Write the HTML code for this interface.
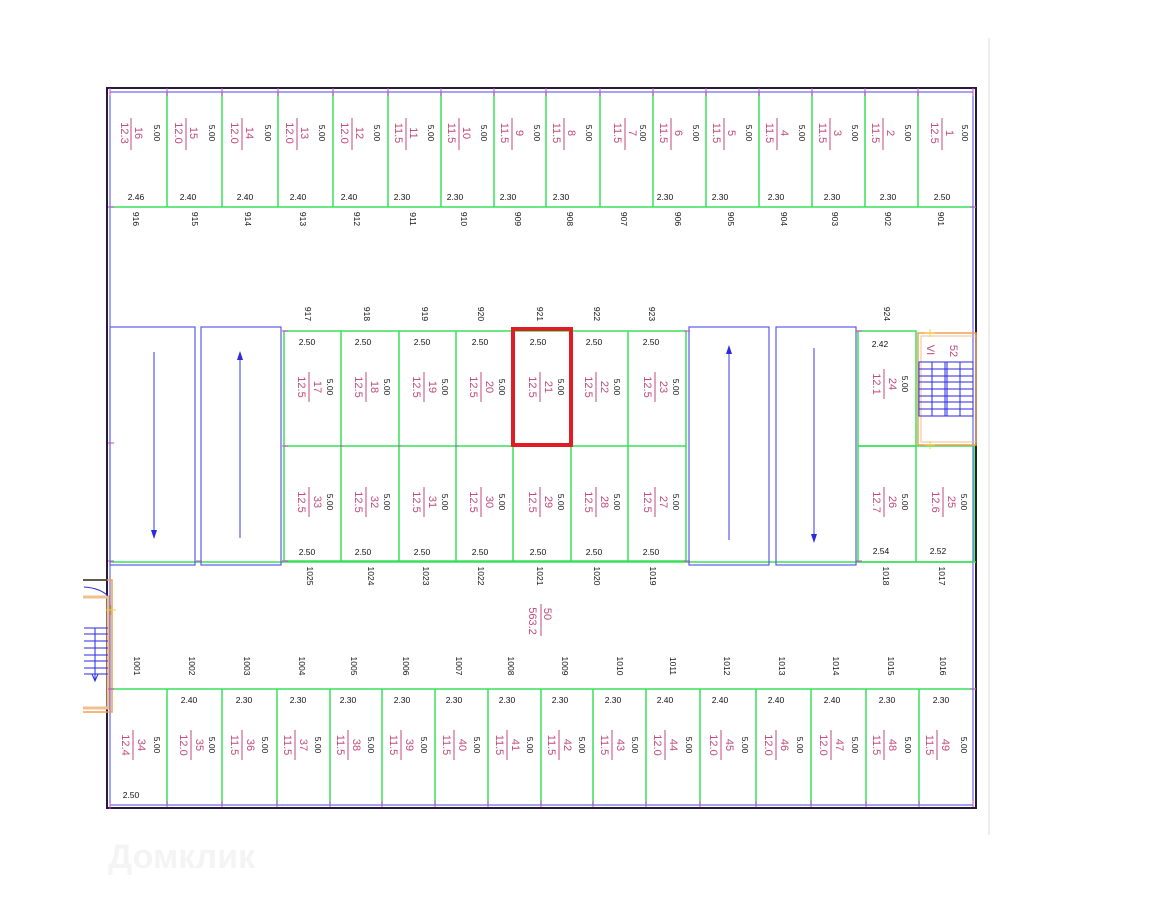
<!DOCTYPE html>
<html><head><meta charset="utf-8"><style>
html,body{margin:0;padding:0;background:#fff;}
svg{display:block;}
.k{font-family:"Liberation Sans",sans-serif;font-size:8.5px;fill:#111;}
.m{font-family:"Liberation Sans",sans-serif;font-size:11px;fill:#c24a78;}
</style></head><body>
<svg width="1152" height="915" viewBox="0 0 1152 915" xmlns="http://www.w3.org/2000/svg">
<rect width="1152" height="915" fill="#fff"/>
<line x1="989" y1="38" x2="989" y2="835" stroke="#ddd" stroke-width="1"/>
<!-- outer -->
<rect x="107" y="88" width="869" height="720" fill="none" stroke="#2a1a3a" stroke-width="2"/>
<rect x="110" y="92" width="863" height="713" fill="none" stroke="#4848e0" stroke-width="1"/>
<!-- top row -->
<g stroke="#38e058" stroke-width="1.5">
<line x1="110" y1="207" x2="976" y2="207"/>
<line x1="167" y1="92" x2="167" y2="207"/><line x1="222" y1="92" x2="222" y2="207"/><line x1="278" y1="92" x2="278" y2="207"/><line x1="333" y1="92" x2="333" y2="207"/><line x1="388" y1="92" x2="388" y2="207"/><line x1="441" y1="92" x2="441" y2="207"/><line x1="494" y1="92" x2="494" y2="207"/><line x1="546" y1="92" x2="546" y2="207"/><line x1="600" y1="92" x2="600" y2="207"/><line x1="653" y1="92" x2="653" y2="207"/><line x1="706" y1="92" x2="706" y2="207"/><line x1="759" y1="92" x2="759" y2="207"/><line x1="812" y1="92" x2="812" y2="207"/><line x1="865" y1="92" x2="865" y2="207"/><line x1="918" y1="92" x2="918" y2="207"/>
<!-- bottom row -->
<line x1="110" y1="689" x2="976" y2="689"/>
<line x1="167" y1="689" x2="167" y2="805"/><line x1="222" y1="689" x2="222" y2="805"/><line x1="277" y1="689" x2="277" y2="805"/><line x1="330" y1="689" x2="330" y2="805"/><line x1="382" y1="689" x2="382" y2="805"/><line x1="435" y1="689" x2="435" y2="805"/><line x1="488" y1="689" x2="488" y2="805"/><line x1="541" y1="689" x2="541" y2="805"/><line x1="593" y1="689" x2="593" y2="805"/><line x1="646" y1="689" x2="646" y2="805"/><line x1="700" y1="689" x2="700" y2="805"/><line x1="756" y1="689" x2="756" y2="805"/><line x1="811" y1="689" x2="811" y2="805"/><line x1="866" y1="689" x2="866" y2="805"/><line x1="919" y1="689" x2="919" y2="805"/>
<!-- middle block -->
<rect x="284" y="331" width="402" height="230" fill="none"/>
<line x1="284" y1="446" x2="686" y2="446"/>
<line x1="341" y1="331" x2="341" y2="561"/><line x1="399" y1="331" x2="399" y2="561"/><line x1="456" y1="331" x2="456" y2="561"/><line x1="513" y1="331" x2="513" y2="561"/><line x1="571" y1="331" x2="571" y2="561"/><line x1="628" y1="331" x2="628" y2="561"/>
<line x1="110" y1="562" x2="976" y2="562"/>
<!-- right cells -->
<rect x="858" y="331" width="58" height="115" fill="none"/>
<rect x="858" y="446" width="116" height="116" fill="none"/>
<line x1="916" y1="446" x2="916" y2="562"/>
</g>
<!-- ramps -->
<g stroke="#5a5ae6" stroke-width="1.2" fill="none">
<rect x="110" y="327" width="85" height="238"/>
<rect x="201" y="327" width="80" height="238"/>
<rect x="689" y="327" width="80" height="238"/>
<rect x="776" y="327" width="80" height="238"/>
<line x1="154" y1="352" x2="154" y2="534"/>
<line x1="240" y1="356" x2="240" y2="538"/>
<line x1="729" y1="350" x2="729" y2="540"/>
<line x1="814" y1="348" x2="814" y2="538"/>
</g>
<g fill="#2a2ae0">
<polygon points="151,530 157,530 154,539"/>
<polygon points="237,360 243,360 240,351"/>
<polygon points="726,354 732,354 729,345"/>
<polygon points="811,534 817,534 814,543"/>
</g>
<!-- selected -->
<rect x="513" y="329" width="58" height="116" fill="none" stroke="#e01c24" stroke-width="4"/>
<!-- right stair -->
<rect x="918" y="333" width="58" height="112" fill="none" stroke="#f0a050" stroke-width="1.5"/>
<rect x="921" y="336" width="55" height="106" fill="none" stroke="#f0c090" stroke-width="1"/>
<g stroke="#2a2ae0" stroke-width="1">
<rect x="919" y="362" width="54" height="54" fill="none"/>
<line x1="919" y1="369" x2="973" y2="369"/><line x1="919" y1="376" x2="973" y2="376"/><line x1="919" y1="382" x2="973" y2="382"/><line x1="919" y1="389" x2="973" y2="389"/><line x1="919" y1="396" x2="973" y2="396"/><line x1="919" y1="402" x2="973" y2="402"/><line x1="919" y1="409" x2="973" y2="409"/>
<line x1="945" y1="362" x2="945" y2="416"/><line x1="947" y1="362" x2="947" y2="416"/><line x1="932" y1="362" x2="932" y2="416"/><line x1="960" y1="362" x2="960" y2="416"/>
</g>
<text class="m" transform="translate(930,350) rotate(90)" text-anchor="middle" dominant-baseline="central">VI</text>
<text class="m" transform="translate(953,351) rotate(90)" text-anchor="middle" dominant-baseline="central">52</text>
<!-- left stair -->
<g>
<path d="M83,580 H112 V712 H83" fill="none" stroke="#f0a050" stroke-width="1.5"/>
<path d="M83,597 H108 V708 H83" fill="none" stroke="#f0c090" stroke-width="3"/>
<path d="M83,580 H107" stroke="#333" stroke-width="1.5"/>
<g stroke="#2a2ae0" stroke-width="1"><line x1="84" y1="628" x2="108" y2="628"/><line x1="84" y1="634" x2="108" y2="634"/><line x1="84" y1="641" x2="108" y2="641"/><line x1="84" y1="648" x2="108" y2="648"/><line x1="84" y1="655" x2="108" y2="655"/><line x1="84" y1="661" x2="108" y2="661"/><line x1="84" y1="668" x2="108" y2="668"/><line x1="84" y1="674" x2="108" y2="674"/><line x1="95" y1="628" x2="95" y2="680"/><path d="M92,674 L95,681 L98,674" fill="none"/><path d="M84,587 Q100,588 108,596" fill="none"/></g>
</g>
<!-- rotated text helper: all rotated 90 -->
<g text-anchor="middle" dominant-baseline="central">
<!-- top row: c, area, num -->
<g class="m">
<text transform="translate(124,133) rotate(90)">12.3</text><text transform="translate(138,133) rotate(90)">16</text>
<text transform="translate(178,133) rotate(90)">12.0</text><text transform="translate(193,133) rotate(90)">15</text>
<text transform="translate(234,133) rotate(90)">12.0</text><text transform="translate(249,133) rotate(90)">14</text>
<text transform="translate(289,133) rotate(90)">12.0</text><text transform="translate(304,133) rotate(90)">13</text>
<text transform="translate(344,133) rotate(90)">12.0</text><text transform="translate(359,133) rotate(90)">12</text>
<text transform="translate(398,133) rotate(90)">11.5</text><text transform="translate(413,133) rotate(90)">11</text>
<text transform="translate(451,133) rotate(90)">11.5</text><text transform="translate(466,133) rotate(90)">10</text>
<text transform="translate(504,133) rotate(90)">11.5</text><text transform="translate(519,133) rotate(90)">9</text>
<text transform="translate(556,133) rotate(90)">11.5</text><text transform="translate(571,133) rotate(90)">8</text>
<text transform="translate(617,133) rotate(90)">11.5</text><text transform="translate(632,133) rotate(90)">7</text>
<text transform="translate(663,133) rotate(90)">11.5</text><text transform="translate(678,133) rotate(90)">6</text>
<text transform="translate(716,133) rotate(90)">11.5</text><text transform="translate(731,133) rotate(90)">5</text>
<text transform="translate(769,133) rotate(90)">11.5</text><text transform="translate(784,133) rotate(90)">4</text>
<text transform="translate(822,133) rotate(90)">11.5</text><text transform="translate(837,133) rotate(90)">3</text>
<text transform="translate(875,133) rotate(90)">11.5</text><text transform="translate(890,133) rotate(90)">2</text>
<text transform="translate(934,133) rotate(90)">12.5</text><text transform="translate(949,133) rotate(90)">1</text>
</g>
<g stroke="#c24a78" stroke-width="1">
<line x1="131" y1="118" x2="131" y2="150"/><line x1="186" y1="118" x2="186" y2="150"/><line x1="242" y1="118" x2="242" y2="150"/><line x1="297" y1="118" x2="297" y2="150"/><line x1="352" y1="118" x2="352" y2="150"/><line x1="406" y1="118" x2="406" y2="150"/><line x1="459" y1="118" x2="459" y2="150"/><line x1="512" y1="118" x2="512" y2="150"/><line x1="564" y1="118" x2="564" y2="150"/><line x1="625" y1="118" x2="625" y2="150"/><line x1="671" y1="118" x2="671" y2="150"/><line x1="724" y1="118" x2="724" y2="150"/><line x1="777" y1="118" x2="777" y2="150"/><line x1="830" y1="118" x2="830" y2="150"/><line x1="883" y1="118" x2="883" y2="150"/><line x1="942" y1="118" x2="942" y2="150"/>
</g>
<g class="k">
<text transform="translate(157,133) rotate(90)">5.00</text><text transform="translate(212,133) rotate(90)">5.00</text><text transform="translate(268,133) rotate(90)">5.00</text><text transform="translate(322,133) rotate(90)">5.00</text><text transform="translate(377,133) rotate(90)">5.00</text><text transform="translate(431,133) rotate(90)">5.00</text><text transform="translate(484,133) rotate(90)">5.00</text><text transform="translate(537,133) rotate(90)">5.00</text><text transform="translate(589,133) rotate(90)">5.00</text><text transform="translate(643,133) rotate(90)">5.00</text><text transform="translate(696,133) rotate(90)">5.00</text><text transform="translate(749,133) rotate(90)">5.00</text><text transform="translate(802,133) rotate(90)">5.00</text><text transform="translate(855,133) rotate(90)">5.00</text><text transform="translate(908,133) rotate(90)">5.00</text><text transform="translate(965,133) rotate(90)">5.00</text>
<text transform="translate(136,219) rotate(90)">916</text><text transform="translate(195,219) rotate(90)">915</text><text transform="translate(248,219) rotate(90)">914</text><text transform="translate(303,219) rotate(90)">913</text><text transform="translate(357,219) rotate(90)">912</text><text transform="translate(413,219) rotate(90)">911</text><text transform="translate(464,219) rotate(90)">910</text><text transform="translate(518,219) rotate(90)">909</text><text transform="translate(570,219) rotate(90)">908</text><text transform="translate(624,219) rotate(90)">907</text><text transform="translate(678,219) rotate(90)">906</text><text transform="translate(731,219) rotate(90)">905</text><text transform="translate(784,219) rotate(90)">904</text><text transform="translate(835,219) rotate(90)">903</text><text transform="translate(888,219) rotate(90)">902</text><text transform="translate(941,219) rotate(90)">901</text>
<!-- middle labels -->
<text transform="translate(308,314) rotate(90)">917</text><text transform="translate(367,314) rotate(90)">918</text><text transform="translate(425,314) rotate(90)">919</text><text transform="translate(481,314) rotate(90)">920</text><text transform="translate(540,314) rotate(90)">921</text><text transform="translate(597,314) rotate(90)">922</text><text transform="translate(652,314) rotate(90)">923</text><text transform="translate(887,314) rotate(90)">924</text>
<text transform="translate(310,576) rotate(90)">1025</text><text transform="translate(371,576) rotate(90)">1024</text><text transform="translate(426,576) rotate(90)">1023</text><text transform="translate(481,576) rotate(90)">1022</text><text transform="translate(540,576) rotate(90)">1021</text><text transform="translate(597,576) rotate(90)">1020</text><text transform="translate(653,576) rotate(90)">1019</text><text transform="translate(886,576) rotate(90)">1018</text><text transform="translate(942,576) rotate(90)">1017</text>
<!-- middle 5.00 -->
<text transform="translate(330,387) rotate(90)">5.00</text><text transform="translate(387,387) rotate(90)">5.00</text><text transform="translate(445,387) rotate(90)">5.00</text><text transform="translate(502,387) rotate(90)">5.00</text><text transform="translate(561,387) rotate(90)">5.00</text><text transform="translate(617,387) rotate(90)">5.00</text><text transform="translate(676,387) rotate(90)">5.00</text><text transform="translate(905,384) rotate(90)">5.00</text>
<text transform="translate(330,502) rotate(90)">5.00</text><text transform="translate(387,502) rotate(90)">5.00</text><text transform="translate(445,502) rotate(90)">5.00</text><text transform="translate(502,502) rotate(90)">5.00</text><text transform="translate(561,502) rotate(90)">5.00</text><text transform="translate(617,502) rotate(90)">5.00</text><text transform="translate(676,502) rotate(90)">5.00</text><text transform="translate(905,502) rotate(90)">5.00</text><text transform="translate(964,502) rotate(90)">5.00</text>
<!-- bottom labels -->
<text transform="translate(137,666) rotate(90)">1001</text><text transform="translate(192,666) rotate(90)">1002</text><text transform="translate(247,666) rotate(90)">1003</text><text transform="translate(302,666) rotate(90)">1004</text><text transform="translate(354,666) rotate(90)">1005</text><text transform="translate(406,666) rotate(90)">1006</text><text transform="translate(459,666) rotate(90)">1007</text><text transform="translate(511,666) rotate(90)">1008</text><text transform="translate(565,666) rotate(90)">1009</text><text transform="translate(620,666) rotate(90)">1010</text><text transform="translate(673,666) rotate(90)">1011</text><text transform="translate(727,666) rotate(90)">1012</text><text transform="translate(782,666) rotate(90)">1013</text><text transform="translate(836,666) rotate(90)">1014</text><text transform="translate(891,666) rotate(90)">1015</text><text transform="translate(943,666) rotate(90)">1016</text>
<!-- bottom 5.00 -->
<text transform="translate(157,745) rotate(90)">5.00</text><text transform="translate(212,745) rotate(90)">5.00</text><text transform="translate(265,745) rotate(90)">5.00</text><text transform="translate(318,745) rotate(90)">5.00</text><text transform="translate(371,745) rotate(90)">5.00</text><text transform="translate(424,745) rotate(90)">5.00</text><text transform="translate(477,745) rotate(90)">5.00</text><text transform="translate(530,745) rotate(90)">5.00</text><text transform="translate(582,745) rotate(90)">5.00</text><text transform="translate(635,745) rotate(90)">5.00</text><text transform="translate(689,745) rotate(90)">5.00</text><text transform="translate(745,745) rotate(90)">5.00</text><text transform="translate(800,745) rotate(90)">5.00</text><text transform="translate(855,745) rotate(90)">5.00</text><text transform="translate(908,745) rotate(90)">5.00</text><text transform="translate(964,745) rotate(90)">5.00</text>
</g>
<!-- middle magenta -->
<g class="m">
<text transform="translate(301,387) rotate(90)">12.5</text><text transform="translate(317,387) rotate(90)">17</text>
<text transform="translate(358,387) rotate(90)">12.5</text><text transform="translate(374,387) rotate(90)">18</text>
<text transform="translate(416,387) rotate(90)">12.5</text><text transform="translate(432,387) rotate(90)">19</text>
<text transform="translate(473,387) rotate(90)">12.5</text><text transform="translate(489,387) rotate(90)">20</text>
<text transform="translate(532,387) rotate(90)">12.5</text><text transform="translate(548,387) rotate(90)">21</text>
<text transform="translate(588,387) rotate(90)">12.5</text><text transform="translate(604,387) rotate(90)">22</text>
<text transform="translate(647,387) rotate(90)">12.5</text><text transform="translate(663,387) rotate(90)">23</text>
<text transform="translate(876,384) rotate(90)">12.1</text><text transform="translate(892,384) rotate(90)">24</text>
<text transform="translate(301,502) rotate(90)">12.5</text><text transform="translate(317,502) rotate(90)">33</text>
<text transform="translate(358,502) rotate(90)">12.5</text><text transform="translate(374,502) rotate(90)">32</text>
<text transform="translate(416,502) rotate(90)">12.5</text><text transform="translate(432,502) rotate(90)">31</text>
<text transform="translate(473,502) rotate(90)">12.5</text><text transform="translate(489,502) rotate(90)">30</text>
<text transform="translate(532,502) rotate(90)">12.5</text><text transform="translate(548,502) rotate(90)">29</text>
<text transform="translate(588,502) rotate(90)">12.5</text><text transform="translate(604,502) rotate(90)">28</text>
<text transform="translate(647,502) rotate(90)">12.5</text><text transform="translate(663,502) rotate(90)">27</text>
<text transform="translate(876,502) rotate(90)">12.7</text><text transform="translate(892,502) rotate(90)">26</text>
<text transform="translate(935,502) rotate(90)">12.6</text><text transform="translate(951,502) rotate(90)">25</text>
<text transform="translate(532,621) rotate(90)">563.2</text><text transform="translate(547,614) rotate(90)">50</text>
<!-- bottom row -->
<text transform="translate(125,745) rotate(90)">12.4</text><text transform="translate(141,745) rotate(90)">34</text>
<text transform="translate(183,745) rotate(90)">12.0</text><text transform="translate(199,745) rotate(90)">35</text>
<text transform="translate(234,745) rotate(90)">11.5</text><text transform="translate(250,745) rotate(90)">36</text>
<text transform="translate(287,745) rotate(90)">11.5</text><text transform="translate(303,745) rotate(90)">37</text>
<text transform="translate(340,745) rotate(90)">11.5</text><text transform="translate(356,745) rotate(90)">38</text>
<text transform="translate(393,745) rotate(90)">11.5</text><text transform="translate(409,745) rotate(90)">39</text>
<text transform="translate(446,745) rotate(90)">11.5</text><text transform="translate(462,745) rotate(90)">40</text>
<text transform="translate(499,745) rotate(90)">11.5</text><text transform="translate(515,745) rotate(90)">41</text>
<text transform="translate(551,745) rotate(90)">11.5</text><text transform="translate(567,745) rotate(90)">42</text>
<text transform="translate(604,745) rotate(90)">11.5</text><text transform="translate(620,745) rotate(90)">43</text>
<text transform="translate(657,745) rotate(90)">12.0</text><text transform="translate(673,745) rotate(90)">44</text>
<text transform="translate(713,745) rotate(90)">12.0</text><text transform="translate(729,745) rotate(90)">45</text>
<text transform="translate(768,745) rotate(90)">12.0</text><text transform="translate(784,745) rotate(90)">46</text>
<text transform="translate(823,745) rotate(90)">12.0</text><text transform="translate(839,745) rotate(90)">47</text>
<text transform="translate(876,745) rotate(90)">11.5</text><text transform="translate(892,745) rotate(90)">48</text>
<text transform="translate(929,745) rotate(90)">11.5</text><text transform="translate(945,745) rotate(90)">49</text>
</g>
<g stroke="#c24a78" stroke-width="1">
<line x1="309" y1="372" x2="309" y2="402"/><line x1="366" y1="372" x2="366" y2="402"/><line x1="424" y1="372" x2="424" y2="402"/><line x1="481" y1="372" x2="481" y2="402"/><line x1="540" y1="372" x2="540" y2="402"/><line x1="596" y1="372" x2="596" y2="402"/><line x1="655" y1="372" x2="655" y2="402"/><line x1="884" y1="369" x2="884" y2="399"/>
<line x1="309" y1="487" x2="309" y2="517"/><line x1="366" y1="487" x2="366" y2="517"/><line x1="424" y1="487" x2="424" y2="517"/><line x1="481" y1="487" x2="481" y2="517"/><line x1="540" y1="487" x2="540" y2="517"/><line x1="596" y1="487" x2="596" y2="517"/><line x1="655" y1="487" x2="655" y2="517"/><line x1="884" y1="487" x2="884" y2="517"/><line x1="943" y1="487" x2="943" y2="517"/>
<line x1="541" y1="604" x2="541" y2="636"/>
<line x1="133" y1="730" x2="133" y2="760"/><line x1="191" y1="730" x2="191" y2="760"/><line x1="242" y1="730" x2="242" y2="760"/><line x1="295" y1="730" x2="295" y2="760"/><line x1="348" y1="730" x2="348" y2="760"/><line x1="401" y1="730" x2="401" y2="760"/><line x1="454" y1="730" x2="454" y2="760"/><line x1="507" y1="730" x2="507" y2="760"/><line x1="559" y1="730" x2="559" y2="760"/><line x1="612" y1="730" x2="612" y2="760"/><line x1="665" y1="730" x2="665" y2="760"/><line x1="721" y1="730" x2="721" y2="760"/><line x1="776" y1="730" x2="776" y2="760"/><line x1="831" y1="730" x2="831" y2="760"/><line x1="884" y1="730" x2="884" y2="760"/><line x1="937" y1="730" x2="937" y2="760"/>
</g>
</g>
<!-- horizontal width labels -->
<g class="k" text-anchor="middle">
<text x="136" y="200">2.46</text><text x="188" y="200">2.40</text><text x="245" y="200">2.40</text><text x="298" y="200">2.40</text><text x="349" y="200">2.40</text><text x="402" y="200">2.30</text><text x="455" y="200">2.30</text><text x="508" y="200">2.30</text><text x="561" y="200">2.30</text><text x="665" y="200">2.30</text><text x="720" y="200">2.30</text><text x="776" y="200">2.30</text><text x="832" y="200">2.30</text><text x="888" y="200">2.30</text><text x="942" y="200">2.50</text>
<text x="307" y="345">2.50</text><text x="363" y="345">2.50</text><text x="422" y="345">2.50</text><text x="480" y="345">2.50</text><text x="538" y="345">2.50</text><text x="594" y="345">2.50</text><text x="651" y="345">2.50</text><text x="880" y="347">2.42</text>
<text x="307" y="555">2.50</text><text x="363" y="555">2.50</text><text x="422" y="555">2.50</text><text x="480" y="555">2.50</text><text x="538" y="555">2.50</text><text x="594" y="555">2.50</text><text x="651" y="555">2.50</text><text x="881" y="554">2.54</text><text x="938" y="554">2.52</text>
<text x="189" y="703">2.40</text><text x="244" y="703">2.30</text><text x="298" y="703">2.30</text><text x="348" y="703">2.30</text><text x="402" y="703">2.30</text><text x="454" y="703">2.30</text><text x="507" y="703">2.30</text><text x="560" y="703">2.30</text><text x="613" y="703">2.30</text><text x="665" y="703">2.40</text><text x="720" y="703">2.40</text><text x="776" y="703">2.40</text><text x="832" y="703">2.40</text><text x="887" y="703">2.30</text><text x="941" y="703">2.30</text>
<text x="131" y="798">2.50</text>
</g>
<!-- magenta ticks -->
<g stroke="#d040d0" stroke-width="1">
<path d="M110,88v8M167,88v8M222,88v8M278,88v8M333,88v8M388,88v8M441,88v8M494,88v8M546,88v8M600,88v8M653,88v8M706,88v8M759,88v8M812,88v8M865,88v8M918,88v8M973,88v8"/>
<path d="M110,803v6M167,801v6M222,801v6M277,801v6M330,801v6M382,801v6M435,801v6M488,801v6M541,801v6M593,801v6M646,801v6M700,801v6M756,801v6M811,801v6M866,801v6M919,801v6M973,801v6"/>
<path d="M108,443h6M108,561h6M196,561h6M282,331h6M282,446h6M282,561h6M684,331h6M684,561h6M856,331h6M856,561h6M340,446h3M398,446h3M455,446h3M108,207h6M970,207h6M108,689h6M970,689h6"/>
</g>
<g stroke="#f0d040" stroke-width="1"><path d="M925,333h10M930,329v8M925,445h10M930,441v8M106,610h10M111,605v10"/></g>
<text x="108" y="868" font-family="Liberation Sans, DejaVu Sans, sans-serif" font-size="34" font-weight="bold" fill="#f4f4f4">Домклик</text>
</svg>
</body></html>
